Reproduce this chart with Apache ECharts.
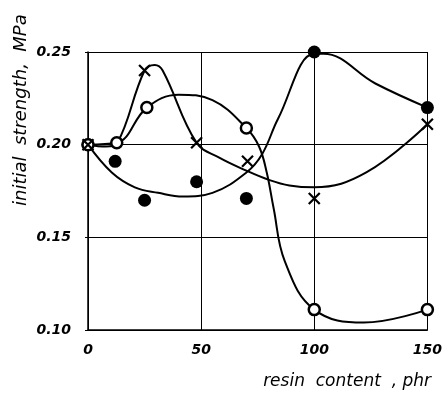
<!DOCTYPE html>
<html>
<head>
<meta charset="utf-8">
<script src="https://cdn.jsdelivr.net/npm/echarts@6/dist/echarts.min.js"></script>
<style>
  html, body { margin: 0; padding: 0; background: #fff; }
  #chart { width: 445px; height: 396px; }
</style>
</head>
<body>
<div id="chart"></div>
<script>
// measured points (resin content, phr -> initial strength, MPa)
var filledX = [0, 12, 25, 48, 70, 100, 150];
var filledY = [0.200, 0.191, 0.170, 0.180, 0.171, 0.250, 0.220];
var openX = [0, 12.7, 26, 70, 100, 150];
var openY = [0.200, 0.201, 0.220, 0.209, 0.111, 0.111];
var crossX = [0, 25, 48, 70.5, 100, 150];
var crossY = [0.200, 0.240, 0.201, 0.191, 0.171, 0.211];

// hand drawn fitted curves
var filledCurveX = [0, 10.5, 20.7, 31, 42, 55, 70, 77, 84, 100, 104, 127, 150];
var filledCurveY = [0.200, 0.185, 0.177, 0.174, 0.172, 0.174, 0.185, 0.195, 0.214, 0.249, 0.249, 0.233, 0.220];
var openCurveX = [0, 12.7, 26, 40, 55, 70, 75.6, 79, 82, 87, 100, 122, 150];
var openCurveY = [0.200, 0.201, 0.220, 0.227, 0.224, 0.209, 0.199, 0.185, 0.166, 0.137, 0.111, 0.104, 0.111];
var crossCurveX = [0, 8, 13, 25, 29.5, 33, 48, 58, 70, 80, 89, 100, 123, 150];
var crossCurveY = [0.200, 0.199, 0.201, 0.240, 0.243, 0.240, 0.201, 0.193, 0.186, 0.181, 0.178, 0.177, 0.185, 0.211];

var xTicks = [0, 50, 100, 150];
var yTicks = [0.10, 0.15, 0.20, 0.25];

function pairs(xs, ys) {
    return xs.map(function (x, i) { return [x, ys[i]]; });
}

var chart = echarts.init(document.getElementById("chart"));

var tickFont = {
    color: "#000",
    fontFamily: "DejaVu Sans",
    fontStyle: "italic",
    fontWeight: "bold",
    fontSize: 14,
};

var curveStyle = { color: "#000", width: 2 };

var option = {
    backgroundColor: "#fff",
    animation: false,
    grid: { left: 88, right: 16, top: 52, bottom: 66 },
    xAxis: {
        type: "value",
        min: xTicks[0],
        max: xTicks[xTicks.length - 1],
        interval: 50,
        axisLine: { show: true, lineStyle: { color: "#000", width: 1.5 } },
        axisTick: { show: false },
        axisLabel: Object.assign({ margin: 13 }, tickFont),
        splitLine: { show: true, lineStyle: { color: "#000", width: 1 } },
    },
    yAxis: {
        type: "value",
        min: yTicks[0],
        max: yTicks[yTicks.length - 1],
        interval: 0.05,
        axisLine: { show: true, lineStyle: { color: "#000", width: 1.5 } },
        axisTick: { show: true, length: 3, inside: false, lineStyle: { color: "#000" } },
        axisLabel: Object.assign({
            margin: 17,
            formatter: function (v) { return v.toFixed(2); },
        }, tickFont),
        splitLine: { show: true, lineStyle: { color: "#000", width: 1 } },
    },
    graphic: [
        {
            type: "text",
            x: 12,
            y: 206,
            rotation: Math.PI / 2,
            style: {
                text: "initial  strength,  MPa",
                fill: "#000",
                font: "italic 18px 'DejaVu Sans'",
                textVerticalAlign: "top",
            },
        },
        {
            type: "text",
            x: 431,
            y: 373,
            style: {
                text: "resin  content  , phr",
                fill: "#000",
                font: "italic 17px 'DejaVu Sans'",
                textAlign: "right",
            },
        },
    ],
    series: [
        {
            type: "line",
            data: pairs(filledCurveX, filledCurveY),
            smooth: 0.4,
            showSymbol: false,
            lineStyle: curveStyle,
        },
        {
            type: "line",
            data: pairs(openCurveX, openCurveY),
            smooth: 0.4,
            showSymbol: false,
            lineStyle: curveStyle,
        },
        {
            type: "line",
            data: pairs(crossCurveX, crossCurveY),
            smooth: 0.4,
            showSymbol: false,
            lineStyle: curveStyle,
        },
        {
            type: "scatter",
            data: pairs(filledX, filledY),
            symbol: "circle",
            symbolSize: 13,
            itemStyle: { color: "#000", opacity: 1 },
            z: 5,
        },
        {
            type: "scatter",
            data: pairs(openX, openY),
            symbol: "circle",
            symbolSize: 11,
            itemStyle: { color: "#fff", borderColor: "#000", borderWidth: 2.5, opacity: 1 },
            z: 6,
        },
        {
            type: "scatter",
            data: pairs(crossX, crossY),
            symbol: "path://M0,0L10,10M10,0L0,10",
            symbolSize: 11,
            itemStyle: { color: "none", borderColor: "#000", borderWidth: 2.2, opacity: 1 },
            z: 7,
        },
    ],
};

chart.setOption(option);
</script>
</body>
</html>
